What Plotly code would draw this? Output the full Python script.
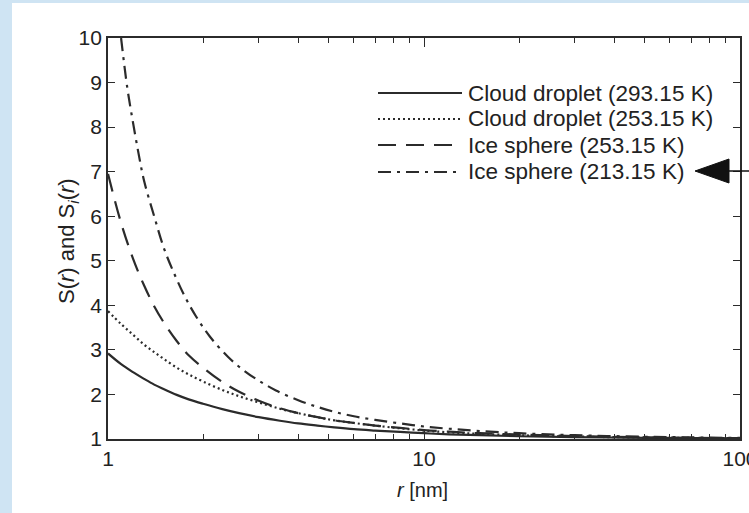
import plotly.graph_objects as go

# ---- data ----
r_common = [1.0, 1.1, 1.2, 1.3, 1.4, 1.5, 1.65, 1.8, 2.0, 2.3, 2.6, 3.0, 3.5, 4.0, 4.6,
            5.2, 6.0, 7.0, 8.4, 10, 12, 15, 20, 30, 50, 70, 100]
s_drop_293 = [2.92, 2.68, 2.50, 2.35, 2.22, 2.12, 1.99, 1.89, 1.79, 1.67, 1.58, 1.49, 1.41, 1.35, 1.30,
              1.26, 1.22, 1.19, 1.16, 1.13, 1.105, 1.085, 1.062, 1.042, 1.025, 1.018, 1.012]
s_drop_253 = [3.87, 3.58, 3.34, 3.12, 2.95, 2.80, 2.60, 2.45, 2.29, 2.10, 1.96, 1.82, 1.68, 1.58, 1.49,
              1.42, 1.36, 1.30, 1.24, 1.19, 1.15, 1.115, 1.085, 1.055, 1.033, 1.024, 1.016]
s_ice_253 = [6.95, 5.85, 5.05, 4.45, 3.98, 3.62, 3.20, 2.88, 2.60, 2.28, 2.06, 1.86, 1.69, 1.58, 1.49,
             1.42, 1.36, 1.30, 1.25, 1.20, 1.165, 1.13, 1.10, 1.065, 1.038, 1.027, 1.019]
r_ice_213 = [1.1, 1.15, 1.2, 1.25, 1.3, 1.4, 1.5, 1.6, 1.75, 1.9, 2.1, 2.4, 2.7, 3.0, 3.4, 4.0, 4.6,
             5.2, 6.0, 7.0, 8.4, 10, 12, 15, 20, 30, 50, 70, 100]
s_ice_213 = [10.0, 8.9, 8.1, 7.4, 6.8, 6.0, 5.3, 4.8, 4.2, 3.75, 3.30, 2.84, 2.53, 2.31, 2.09, 1.87, 1.72,
             1.61, 1.51, 1.43, 1.35, 1.28, 1.23, 1.18, 1.13, 1.085, 1.05, 1.036, 1.025]

labels = ["Cloud droplet (293.15 K)", "Cloud droplet (253.15 K)",
          "Ice sphere (253.15 K)", "Ice sphere (213.15 K)"]
x_ticks = [1, 10, 100]
x_tick_text = ["1", "10", "100"]
y_ticks = [1, 2, 3, 4, 5, 6, 7, 8, 9, 10]

# ---- styling ----
W, H = 749, 513
L, R, T, B = 108, 9, 38, 74
PW, PH = W - L - R, H - T - B
INK = "#2b2b2b"
BLUE = "rgb(207,228,243)"
FONT = "Liberation Sans, Arial, sans-serif"
dashes = ["solid", "2px,3px", "18px,10px", "13px,6px,3px,6px"]


def px(x):
    return (x - L) / PW


def py(y):
    return (H - B - y) / PH


fig = go.Figure()
series = [(r_common, s_drop_293), (r_common, s_drop_253),
          (r_common, s_ice_253), (r_ice_213, s_ice_213)]
for (rx, sy), name, d in zip(series, labels, dashes):
    fig.add_trace(go.Scatter(x=rx, y=sy, mode="lines", name=name,
                             line=dict(color=INK, width=2.2, dash=d, shape="spline", smoothing=1.0),
                             showlegend=False, cliponaxis=True))

shapes = []
# page background: blue strip on left and top, white elsewhere
shapes.append(dict(type="rect", xref="paper", yref="paper", layer="below",
                   x0=px(12), x1=px(W + 20), y0=py(H + 20), y1=py(3),
                   fillcolor="white", line=dict(width=0)))

annotations = []
rows = [93, 119, 145, 172]
for yrow, name, d in zip(rows, labels, dashes):
    shapes.append(dict(type="line", xref="paper", yref="paper",
                       x0=px(378), x1=px(462), y0=py(yrow), y1=py(yrow),
                       line=dict(color=INK, width=2.2, dash=d)))
    annotations.append(dict(xref="paper", yref="paper", x=px(466), y=py(yrow),
                            xanchor="left", yanchor="middle", showarrow=False,
                            text=name, font=dict(family=FONT, size=22.5, color="#222")))

# axis titles as annotations for exact placement
annotations.append(dict(xref="paper", yref="paper", x=px(422), y=py(490),
                        xanchor="center", yanchor="middle", showarrow=False,
                        text="<i>r</i> [nm]", font=dict(family=FONT, size=20, color="#222")))
annotations.append(dict(xref="paper", yref="paper", x=px(68), y=py(241),
                        xanchor="center", yanchor="middle", showarrow=False, textangle=-90,
                        text="S(<i>r</i>) and S<sub><i>i</i></sub>(<i>r</i>)",
                        font=dict(family=FONT, size=22, color="#222")))

# arrow pointing at the last legend entry
shapes.append(dict(type="path", xref="paper", yref="paper",
                   path=f"M {px(695)} {py(171)} L {px(729)} {py(159)} L {px(729)} {py(183)} Z",
                   fillcolor="#111", line=dict(color="#111", width=1)))
shapes.append(dict(type="line", xref="paper", yref="paper",
                   x0=px(725), x1=px(W + 5), y0=py(171), y1=py(171),
                   line=dict(color="#111", width=1.5)))

fig.update_layout(
    width=W, height=H,
    margin=dict(l=L, r=R, t=T, b=B, autoexpand=False),
    paper_bgcolor=BLUE, plot_bgcolor="white",
    font=dict(family=FONT, size=21, color="#222"),
    shapes=shapes, annotations=annotations,
    showlegend=False,
)
fig.update_xaxes(type="log", range=[0, 2], tickvals=x_ticks, ticktext=x_tick_text,
                 ticks="inside", ticklen=9, tickwidth=1.3, tickcolor=INK,
                 minor=dict(ticks="inside", ticklen=5, tickwidth=1.2, tickcolor=INK, dtick="D1"),
                 showline=True, linecolor=INK, linewidth=1.8, mirror="ticks",
                 showgrid=False, zeroline=False, ticklabeloverflow="allow", automargin=False,
                 tickfont=dict(size=21))
fig.update_yaxes(range=[1, 10], tickvals=y_ticks,
                 ticks="inside", ticklen=7, tickwidth=1.3, tickcolor=INK,
                 showline=True, linecolor=INK, linewidth=1.8, mirror="ticks",
                 showgrid=False, zeroline=False, automargin=False,
                 tickfont=dict(size=21))

fig.write_html("out.html")
